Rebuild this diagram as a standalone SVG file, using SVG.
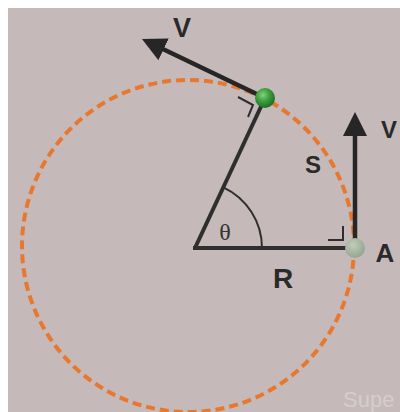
<svg xmlns="http://www.w3.org/2000/svg" width="400" height="412" viewBox="0 0 400 412">
  <style>
    .lbl { font-family: "Liberation Sans", Arial, sans-serif; font-weight: bold; fill: #2a2a2a; text-anchor: middle; }
    .thick { stroke: #2e2e2e; stroke-width: 4; fill: none; stroke-linecap: butt; }
    .thin { stroke: #2e2e2e; stroke-width: 2; fill: none; }
    .arrow { stroke: #262626; stroke-width: 4.5; fill: none; }
  </style>
  <defs>
    <marker id="head" viewBox="0 0 24 24" markerWidth="24" markerHeight="24" markerUnits="userSpaceOnUse" refX="2" refY="12" orient="auto">
      <path d="M0,0 L24,12 L0,24 Z" fill="#262626"/>
    </marker>
    <radialGradient id="greenBall" cx="0.4" cy="0.35" r="0.65">
      <stop offset="0" stop-color="#7fd47a"/>
      <stop offset="0.5" stop-color="#3c9e3e"/>
      <stop offset="1" stop-color="#1f6e24"/>
    </radialGradient>
    <radialGradient id="greyBall" cx="0.4" cy="0.35" r="0.65">
      <stop offset="0" stop-color="#c2ccbd"/>
      <stop offset="1" stop-color="#95a68f"/>
    </radialGradient>
  </defs>

  <rect x="8" y="8" width="392" height="404" fill="#c5bab9"/>

  <g id="path-circle">
    <circle cx="188" cy="246" r="166" fill="none" stroke="#e8772f" stroke-width="4" stroke-dasharray="9 5"/>
  </g>

  <g id="connectors">
    <line class="thick" x1="195" y1="248" x2="265" y2="98"/>
    <line class="thick" x1="193" y1="248" x2="347" y2="248"/>
    <path class="thin" d="M262,248 A67,67 0 0 0 223.3,187.3" stroke-width="1.6"/>
    <polyline class="thin" points="238,97 253,105 248,117"/>
    <polyline class="thin" points="328,240 343,240 343,226"/>
    <line class="arrow" x1="265" y1="98" x2="161.8" y2="48.5" marker-end="url(#head)"/>
    <line class="arrow" x1="355" y1="242" x2="355" y2="134" marker-end="url(#head)"/>
  </g>

  <g id="ball">
    <circle cx="265" cy="98" r="10" fill="url(#greenBall)"/>
  </g>
  <g id="point-A">
    <circle cx="355" cy="248" r="10" fill="url(#greyBall)"/>
  </g>

  <g id="labels">
    <text class="lbl" x="182" y="37" font-size="27">V</text>
    <text class="lbl" x="389" y="138" font-size="24">V</text>
    <text class="lbl" x="313" y="173" font-size="24">S</text>
    <text class="lbl" x="283" y="288" font-size="28">R</text>
    <text class="lbl" x="385" y="262" font-size="26">A</text>
    <text x="225" y="240" font-size="24" font-family="Liberation Serif, serif" fill="#333" text-anchor="middle">θ</text>
    <text x="343" y="407" font-size="22" font-family="Liberation Sans, Arial, sans-serif" fill="#ffffff" fill-opacity="0.3">Supe</text>
  </g>
</svg>
